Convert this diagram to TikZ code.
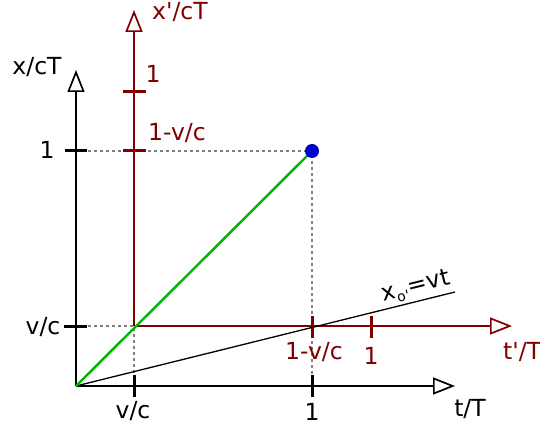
\documentclass[tikz,border=0pt]{standalone}
\usepackage{fontspec}
\setmainfont{DejaVu Sans}
\usetikzlibrary{arrows.meta}
\definecolor{axred}{RGB}{128,0,0}
\definecolor{dotblue}{RGB}{0,0,204}
\definecolor{lgreen}{RGB}{0,180,0}
\newcommand{\q}{\textquotesingle}
\tikzset{
  lbl/.style={font=\fontsize{23.5}{26}\selectfont, inner sep=0pt},
  rlbl/.style={lbl, text=axred},
  axis/.style={line width=1.7pt, -{Triangle[open, length=22pt, width=17pt, line width=1.7pt]}},
  raxis/.style={axis, draw=axred},
  tickk/.style={line width=3pt},
  rtick/.style={tickk, draw=axred},
  guide/.style={draw=gray, line width=1.3pt, dash pattern=on 3pt off 3pt}
}
\begin{document}
\begin{tikzpicture}[x=1pt,y=-1pt]
\useasboundingbox (0,0) rectangle (540,430);
% key points
\coordinate (O) at (76,386);
\coordinate (xend) at (455,386);
\coordinate (yend) at (76,70);
\coordinate (Op) at (134,326);
\coordinate (tpend) at (512,326);
\coordinate (xpend) at (134,10);
\coordinate (P) at (312,151);
\coordinate (vtend) at (455,292);
\coordinate (y1) at (76,151);
\coordinate (yv) at (76,326);
\coordinate (xv) at (134,386);
\coordinate (x1) at (312,386);
\coordinate (tp1) at (371,326);
\coordinate (tpv) at (312,326);
\coordinate (xp1) at (134,92);
\coordinate (xpv) at (134,151);
% guides
\draw[guide] (y1) -- (P) -- (x1);
\draw[guide] (yv) -- (Op) -- (xv);
% axes
\draw[axis] (O) -- (xend);
\draw[axis] (O) -- (yend);
\draw[raxis] (Op) -- (tpend);
\draw[raxis] (Op) -- (xpend);
% ticks
\draw[tickk] ([xshift=-11pt]y1) -- ([xshift=11pt]y1);
\draw[tickk] ([xshift=-12pt]yv) -- ([xshift=11pt]yv);
\draw[tickk] ([yshift=11pt]xv) -- ([yshift=-11pt]xv);
\draw[tickk] ([yshift=11pt]x1) -- ([yshift=-11pt]x1);
\draw[rtick] ([xshift=-11pt]xpv) -- ([xshift=12pt]xpv);
\draw[rtick] ([xshift=-11pt]xp1) -- ([xshift=12pt]xp1);
\draw[rtick] ([yshift=10pt]tpv) -- ([yshift=-12pt]tpv);
\draw[rtick] ([yshift=10pt]tp1) -- ([yshift=-12pt]tp1);
% world lines
\draw[line width=1.3pt] (O) -- (vtend);
\draw[draw=lgreen, line width=2.4pt] (O) -- (P);
\fill[dotblue] (P) circle (7pt);
% labels
\node[lbl] (lxcT) at (37,67) {x/cT};
\node[lbl] (ly1) at (47,150) {1};
\node[lbl] (lyv) at (43,327) {v/c};
\node[lbl] (lxv) at (133,411) {v/c};
\node[lbl] (lx1) at (312,412) {1};
\node[lbl] (ltT) at (470,409) {t/T};
\node[rlbl, anchor=west] (lxp) at (152,12) {x\q/cT};
\node[rlbl] (lxp1) at (153,74) {1};
\node[rlbl] (lxpv) at (177,133) {1-v/c};
\node[rlbl] (ltpv) at (314,352) {1-v/c};
\node[rlbl] (ltp1) at (371,356) {1};
\node[rlbl, anchor=west] (ltp) at (503,352) {t\q/T};
\node[lbl, rotate=14] (lvt) at (416,287) {x\raisebox{-0.35ex}{\fontsize{14}{15}\selectfont o\q}=vt};
\end{tikzpicture}
\end{document}
